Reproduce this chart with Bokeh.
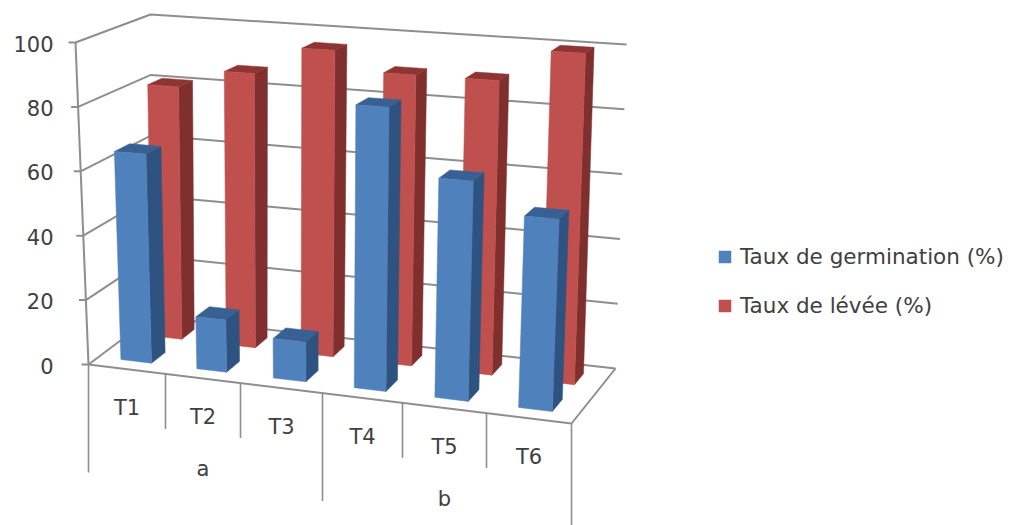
import numpy as np
from bokeh.plotting import figure
from bokeh.models import Legend, LegendItem
from bokeh.core.properties import value
from bokeh.embed import file_html
from bokeh.resources import INLINE

treatments = ["T1", "T2", "T3", "T4", "T5", "T6"]
groups = ["a", "b"]
group_spans = [(0, 3), (3, 6)]
germination = [65, 16, 12, 85, 65, 56]
levee = [81, 87, 96, 90, 90, 100]
value_ticks = [0, 20, 40, 60, 80, 100]
series_names = ["Taux de germination (%)", "Taux de lévée (%)"]

FONT = "DejaVu Sans"
INK = "#404040"
GRID = "#8e8e8e"

# Box corners on the page: (side, depth, low/high value) -> pixels.
BOX = {
    (0, 0, 0): (88, 364), (0, 0, 1): (75, 42),
    (0, 1, 0): (152, 316), (0, 1, 1): (150, 14),
    (1, 0, 0): (571, 423), (1, 0, 1): (585, 74),
    (1, 1, 0): (615, 368), (1, 1, 1): (626, 44),
}
# Category boundaries along the box width, slightly wider toward the right.
U_STOPS = np.array([0, 77, 152, 234, 314, 398, 483]) / 483


def project(u, w, v):
    s = np.interp(u, np.arange(7), U_STOPS)
    t = v / 100
    out = np.zeros(2)
    for a, wa in ((0, 1 - s), (1, s)):
        for b, wb in ((0, 1 - w), (1, w)):
            for c, wc in ((0, 1 - t), (1, t)):
                out += wa * wb * wc * np.array(BOX[(a, b, c)])
    return float(out[0]), float(out[1])


def face(*corners):
    pts = [project(*c) for c in corners]
    return [q[0] for q in pts], [q[1] for q in pts]


def add_faces(fig, faces, color):
    xs = [f[0] for f in faces]
    ys = [f[1] for f in faces]
    return fig.patches(xs, ys, fill_color=color, line_color=color, line_width=0.5)


p = figure(width=1018, height=525, output_backend="svg", toolbar_location=None,
           x_range=(0, 1018), y_range=(525, 0), min_border=0,
           x_axis_location=None, y_axis_location=None)
p.grid.visible = False
p.outline_line_color = None

# Walls, floor and the short ticks on the value axis
for v in value_ticks:
    b = project(0, 0, v)
    c = project(0, 1, v)
    d = project(6, 1, v)
    p.line([b[0] - 7, b[0], c[0], d[0]], [b[1], b[1], c[1], d[1]], line_color=GRID, line_width=2)
f0 = project(0, 0, 0)
f1 = project(6, 0, 0)
f2 = project(6, 1, 0)
top = project(0, 0, 100)
p.line([top[0], f0[0]], [top[1], f0[1]], line_color=GRID, line_width=2)
p.line([f0[0], f1[0], f2[0]], [f0[1], f1[1], f2[1]], line_color=GRID, line_width=2)


# Bars, back row first
def bar_row(values, w0, w1, front, side, cap):
    fronts = []
    for i, val in enumerate(values):
        u0, u1 = i + 0.29, i + 0.69
        add_faces(p, [face((u1, w0, 0), (u1, w1, 0), (u1, w1, val), (u1, w0, val))], side)
        add_faces(p, [face((u0, w0, val), (u1, w0, val), (u1, w1, val), (u0, w1, val))], cap)
        fronts.append(face((u0, w0, 0), (u1, w0, 0), (u1, w0, val), (u0, w0, val)))
    return add_faces(p, fronts, front)


red = bar_row(levee, 0.65, 0.85, "#C0504D", "#7F302E", "#8E3533")
blue = bar_row(germination, 0.16, 0.38, "#4F81BD", "#2F5380", "#386092")

# Category dividers under the floor
short_len, long_len = 55, 108
for u in range(7):
    x, y = project(u, 0, 0)
    length = long_len if u % 3 == 0 else short_len
    p.line([x, x], [y, y + length], line_color=GRID, line_width=1.6)

# Value labels and category labels
tx = [53] * len(value_ticks)
ty = [project(0, 0, v)[1] + 1 for v in value_ticks]
p.text(tx, ty, text=[str(v) for v in value_ticks], text_align="right", text_baseline="middle",
       text_font=value(FONT), text_font_size="21px", text_color=INK)
cx, cy = [], []
for i in range(len(treatments)):
    x, y = project(i + 0.5, 0, 0)
    cx.append(x)
    cy.append(y + 39)
p.text(cx, cy, text=treatments, text_align="center", text_baseline="middle",
       text_font=value(FONT), text_font_size="21px", text_color=INK)
gx, gy = [], []
for s, e in group_spans:
    x, y = project((s + e) / 2, 0, 0)
    gx.append(x)
    gy.append(y + 91)
p.text(gx, gy, text=groups, text_align="center", text_baseline="middle",
       text_font=value(FONT), text_font_size="21px", text_color=INK)

legend = Legend(items=[LegendItem(label=series_names[0], renderers=[blue]),
                       LegendItem(label=series_names[1], renderers=[red])],
                location=(717, 207), orientation="vertical", spacing=24,
                glyph_width=15, glyph_height=15, label_standoff=8,
                label_text_font=FONT, label_text_font_size="21.5px", label_text_color=INK,
                label_height=20, padding=0, margin=0,
                background_fill_alpha=0, border_line_alpha=0)
p.add_layout(legend)

open("out.html", "w").write(file_html(p, INLINE))
